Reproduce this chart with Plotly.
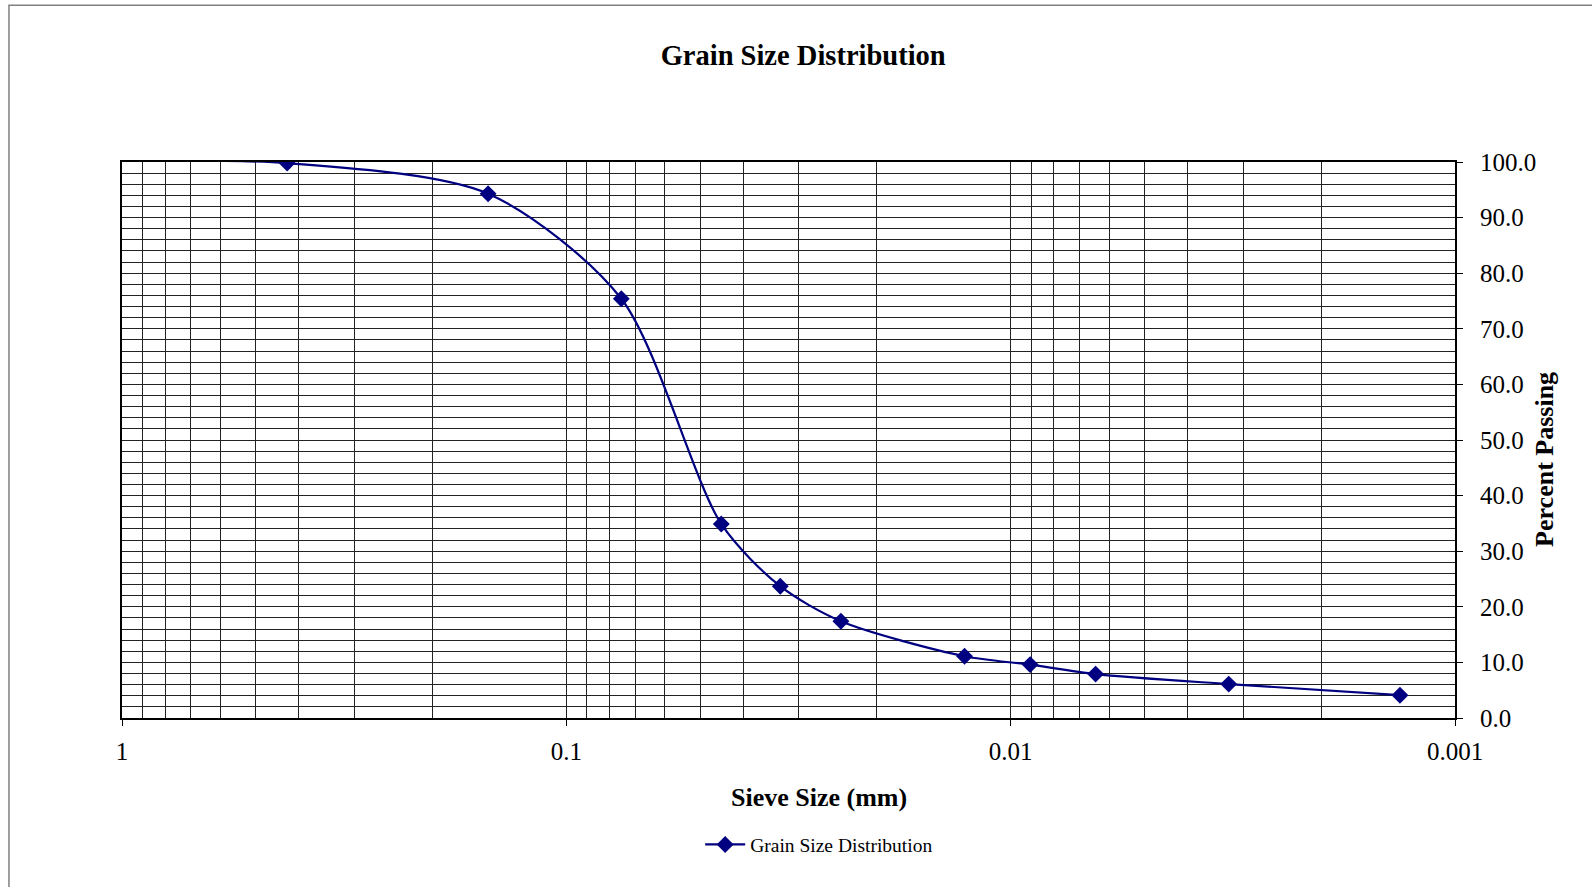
import plotly.graph_objects as go

# sieve sizes (mm) and percent passing
sieve_mm = [4.75, 2.0, 0.425, 0.150, 0.0752, 0.0448, 0.0330, 0.0241,
            0.0127, 0.00904, 0.00644, 0.00323, 0.00133]
pct_passing = [100.0, 100.0, 99.8, 94.3, 75.4, 34.9, 23.7, 17.4,
               11.1, 9.6, 7.9, 6.1, 4.1]

x_major = [1, 0.1, 0.01, 0.001]
x_labels = ["1", "0.1", "0.01", "0.001"]
x_minor = [k * 10.0 ** e for e in (-1, -2, -3) for k in range(2, 10)]

FONT = "Liberation Serif, Times New Roman, serif"
NAVY = "#000080"

fig = go.Figure()
fig.add_trace(go.Scatter(
    x=sieve_mm, y=pct_passing,
    mode="lines+markers",
    name="Grain Size Distribution",
    line=dict(color=NAVY, width=2.2, shape="spline", smoothing=0.8),
    marker=dict(symbol="diamond", size=13, color=NAVY),
))

grid = "#222222"
fig.update_xaxes(
    type="log", range=[0, -3],
    tickvals=x_major, ticktext=x_labels,
    ticks="outside", ticklen=6, tickcolor="black", ticklabelstandoff=4,
    showgrid=True, gridcolor=grid, gridwidth=1,
    minor=dict(tickvals=x_minor, showgrid=True, gridcolor=grid, gridwidth=1, ticks=""),
    showline=True, linecolor="black", linewidth=2, mirror=True,
    zeroline=False,
    tickfont=dict(family=FONT, size=25, color="black"),
)
fig.update_yaxes(
    side="right", range=[0, 100], dtick=10, tickformat=".1f",
    ticks="outside", ticklen=6, tickcolor="black", ticklabelstandoff=12,
    showgrid=True, gridcolor=grid, gridwidth=1,
    minor=dict(dtick=2, showgrid=True, gridcolor=grid, gridwidth=1, ticks=""),
    showline=True, linecolor="black", linewidth=2, mirror=True,
    zeroline=False,
    tickfont=dict(family=FONT, size=25, color="black"),
)

# axis titles as annotations (they sit off-centre in the original)
fig.add_annotation(text="<b>Sieve Size (mm)</b>", xref="paper", yref="paper",
                   x=0.523, y=-0.143, xanchor="center", yanchor="middle",
                   showarrow=False, font=dict(family=FONT, size=26, color="black"))
fig.add_annotation(text="<b>Percent Passing</b>", xref="paper", yref="paper",
                   x=1.0675, y=0.466, xanchor="center", yanchor="middle",
                   showarrow=False, textangle=-90,
                   font=dict(family=FONT, size=26, color="black"))

# outer chart border
fig.add_shape(type="rect", xref="paper", yref="paper",
              x0=-0.0848, x1=1.12, y0=-0.34, y1=1.282,
              line=dict(color="#808080", width=1.5), layer="below")

fig.update_layout(
    width=1592, height=887,
    margin=dict(l=122, r=137, t=162, b=169),
    paper_bgcolor="white", plot_bgcolor="white",
    title=dict(text="<b>Grain Size Distribution</b>", x=0.5045, xanchor="center",
               y=0.938, yanchor="middle",
               font=dict(family=FONT, size=28.5, color="black")),
    showlegend=True,
    legend=dict(orientation="h", x=0.523, xanchor="center", y=-0.228, yanchor="middle",
                font=dict(family=FONT, size=19.5, color="black"), itemwidth=40),
)

fig.write_html("out.html", config={"displayModeBar": False},
               post_script="document.body.style.margin='0';")
